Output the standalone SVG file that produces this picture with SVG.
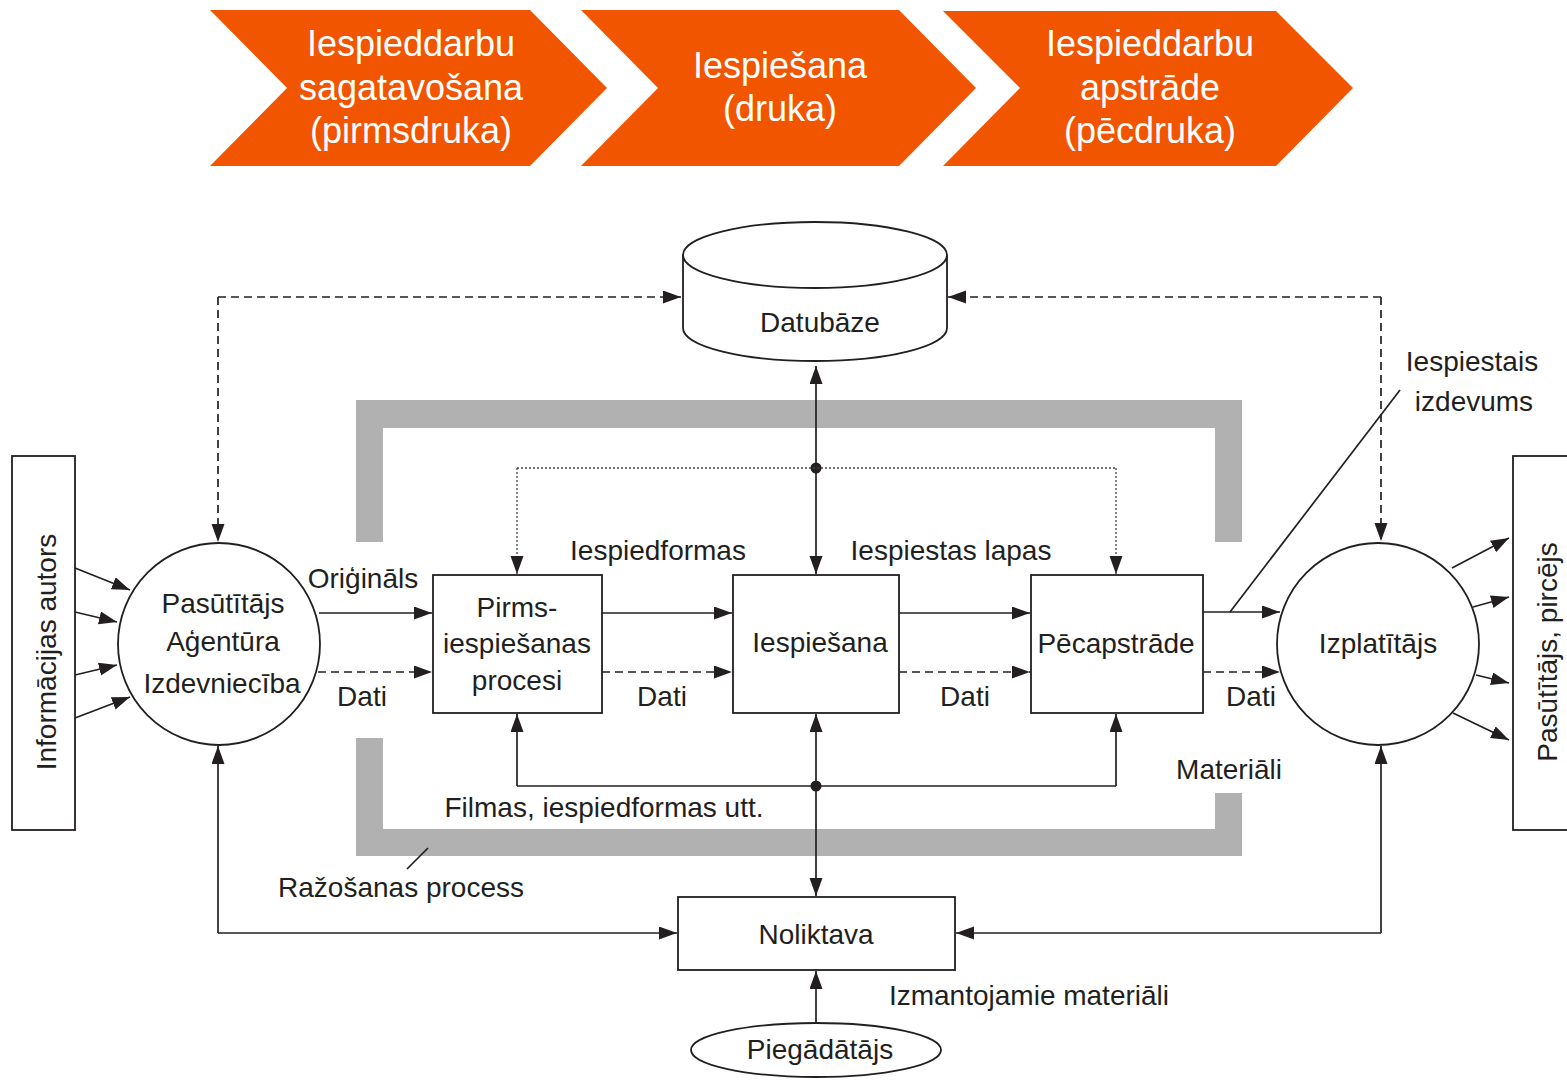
<svg xmlns="http://www.w3.org/2000/svg" width="1567" height="1081" viewBox="0 0 1567 1081">
<style>
.t{font-family:"Liberation Sans",Arial,sans-serif;font-size:28px;fill:#231f20;text-anchor:middle}
.ch{font-family:"Liberation Sans",Arial,sans-serif;font-size:36px;fill:#ffffff;text-anchor:middle}
.ln{stroke:#231f20;stroke-width:1.7;fill:none}
.da{stroke:#231f20;stroke-width:1.7;fill:none;stroke-dasharray:8 5}
.dt{stroke:#444;stroke-width:1.3;fill:none;stroke-dasharray:2 2}
.box{fill:#fff;stroke:#231f20;stroke-width:1.8}
.gray{fill:#b1b1b1}
.arr{fill:#f15500}
</style>
<defs>
<marker id="ah" markerUnits="userSpaceOnUse" markerWidth="20" markerHeight="14" refX="18" refY="6.5" orient="auto">
<path d="M0,0 L18,6.5 L0,13 Z" fill="#231f20"/>
</marker>
</defs>
<rect width="1567" height="1081" fill="#fff"/>

<g id="phase1">
<path class="arr" d="M210,10 L530,10 L607,88 L530,166 L210,166 L287,88 Z"/>
<text class="ch" x="411" y="56">Iespieddarbu</text>
<text class="ch" x="411" y="100">sagatavošana</text>
<text class="ch" x="411" y="143">(pirmsdruka)</text>
</g>
<g id="phase2">
<path class="arr" d="M581,10 L899,10 L976,88 L899,166 L581,166 L658,88 Z"/>
<text class="ch" x="780" y="78">Iespiešana</text>
<text class="ch" x="780" y="121">(druka)</text>
</g>
<g id="phase3">
<path class="arr" d="M943,11 L1276,11 L1353,88 L1276,166 L943,166 L1020,88 Z"/>
<text class="ch" x="1150" y="56">Iespieddarbu</text>
<text class="ch" x="1150" y="100">apstrāde</text>
<text class="ch" x="1150" y="143">(pēcdruka)</text>
</g>

<g id="production-process">
<path class="gray" d="M356,400 H1242 V542 H1215 V428 H383 V542 H356 Z"/>
<path class="gray" d="M356,738 H383 V829 H1215 V793 H1242 V856 H356 Z"/>
<line class="ln" x1="407" y1="869" x2="428" y2="848" stroke-width="3"/>
<text class="t" x="401" y="897">Ražošanas process</text>
</g>

<g id="connectors">
<line class="ln" x1="75" y1="568" x2="130" y2="590" marker-end="url(#ah)"/>
<line class="ln" x1="75" y1="612" x2="117" y2="622" marker-end="url(#ah)"/>
<line class="ln" x1="75" y1="675" x2="117" y2="665" marker-end="url(#ah)"/>
<line class="ln" x1="75" y1="718" x2="130" y2="697" marker-end="url(#ah)"/>
<path class="da" d="M218,297 H681" marker-end="url(#ah)"/>
<path class="da" d="M218,297 V542" marker-end="url(#ah)"/>
<path class="da" d="M1381,297 H948" marker-end="url(#ah)"/>
<path class="da" d="M1381,297 V541" marker-end="url(#ah)"/>
<line class="ln" x1="816" y1="468" x2="816" y2="366" marker-end="url(#ah)"/>
<line class="ln" x1="816" y1="468" x2="816" y2="574" marker-end="url(#ah)"/>
<circle cx="816" cy="468" r="5.5" fill="#231f20"/>
<path class="dt" d="M517,468 H1116"/>
<path class="dt" d="M517,468 V574" marker-end="url(#ah)"/>
<path class="dt" d="M1116,468 V574" marker-end="url(#ah)"/>
<line class="ln" x1="319" y1="613" x2="432" y2="613" marker-end="url(#ah)"/>
<line class="da" x1="318" y1="672" x2="432" y2="672" marker-end="url(#ah)"/>
<line class="ln" x1="602" y1="613" x2="732" y2="613" marker-end="url(#ah)"/>
<line class="da" x1="602" y1="672" x2="732" y2="672" marker-end="url(#ah)"/>
<line class="ln" x1="899" y1="613" x2="1030" y2="613" marker-end="url(#ah)"/>
<line class="da" x1="899" y1="672" x2="1030" y2="672" marker-end="url(#ah)"/>
<line class="ln" x1="1203" y1="612" x2="1280" y2="612" marker-end="url(#ah)"/>
<line class="da" x1="1203" y1="672" x2="1280" y2="672" marker-end="url(#ah)"/>
<line class="ln" x1="1230" y1="612" x2="1400" y2="390"/>
<line class="ln" x1="1452" y1="568" x2="1509" y2="538" marker-end="url(#ah)"/>
<line class="ln" x1="1473" y1="607" x2="1509" y2="597" marker-end="url(#ah)"/>
<line class="ln" x1="1476" y1="675" x2="1509" y2="683" marker-end="url(#ah)"/>
<line class="ln" x1="1453" y1="713" x2="1509" y2="740" marker-end="url(#ah)"/>
<line class="ln" x1="816" y1="786" x2="816" y2="714" marker-end="url(#ah)"/>
<line class="ln" x1="816" y1="786" x2="816" y2="896" marker-end="url(#ah)"/>
<circle cx="816" cy="786" r="5.5" fill="#231f20"/>
<path class="ln" d="M517,786 H1116"/>
<path class="ln" d="M517,786 V714" marker-end="url(#ah)"/>
<path class="ln" d="M1116,786 V714" marker-end="url(#ah)"/>
<path class="ln" d="M218,933 V746" marker-end="url(#ah)"/>
<path class="ln" d="M218,933 H677" marker-end="url(#ah)"/>
<path class="ln" d="M1381,933 V746" marker-end="url(#ah)"/>
<path class="ln" d="M1381,933 H956" marker-end="url(#ah)"/>
<line class="ln" x1="816" y1="1023" x2="816" y2="971" marker-end="url(#ah)"/>
</g>

<g id="author">
<rect class="box" x="12" y="456" width="63" height="374"/>
<text class="t" transform="translate(56,652) rotate(-90)">Informācijas autors</text>
</g>
<g id="publisher">
<circle class="box" cx="219" cy="644" r="101"/>
<text class="t" x="223" y="613">Pasūtītājs</text>
<text class="t" x="223" y="651">Aģentūra</text>
<text class="t" x="222" y="693">Izdevniecība</text>
</g>
<g id="database">
<path class="box" d="M683,255 V328 A132,33 0 0 0 947,328 V255"/>
<ellipse class="box" cx="815" cy="255" rx="132" ry="33"/>
<text class="t" x="820" y="332">Datubāze</text>
</g>
<g id="prepress">
<rect class="box" x="433" y="575" width="169" height="138"/>
<text class="t" x="517" y="617">Pirms-</text>
<text class="t" x="517" y="653">iespiešanas</text>
<text class="t" x="517" y="690">procesi</text>
</g>
<g id="printing">
<rect class="box" x="733" y="575" width="166" height="138"/>
<text class="t" x="820" y="652">Iespiešana</text>
</g>
<g id="postpress">
<rect class="box" x="1031" y="575" width="172" height="138"/>
<text class="t" x="1116" y="653">Pēcapstrāde</text>
</g>
<g id="distributor">
<circle class="box" cx="1378" cy="644" r="101"/>
<text class="t" x="1378" y="653">Izplatītājs</text>
</g>
<g id="customer">
<rect class="box" x="1513" y="456" width="70" height="374"/>
<text class="t" transform="translate(1557,652) rotate(-90)">Pasūtītājs, pircējs</text>
</g>
<g id="warehouse">
<rect class="box" x="678" y="897" width="277" height="73"/>
<text class="t" x="816" y="944">Noliktava</text>
</g>
<g id="supplier">
<ellipse class="box" cx="816" cy="1050" rx="125" ry="27"/>
<text class="t" x="820" y="1059">Piegādātājs</text>
</g>

<g id="labels">
<text class="t" x="363" y="588">Oriģināls</text>
<text class="t" x="362" y="706">Dati</text>
<text class="t" x="658" y="560">Iespiedformas</text>
<text class="t" x="662" y="706">Dati</text>
<text class="t" x="951" y="560">Iespiestas lapas</text>
<text class="t" x="965" y="706">Dati</text>
<text class="t" x="1251" y="706">Dati</text>
<text class="t" x="1229" y="779">Materiāli</text>
<text class="t" x="604" y="817">Filmas, iespiedformas utt.</text>
<text class="t" x="1472" y="371">Iespiestais</text>
<text class="t" x="1474" y="411">izdevums</text>
<text class="t" x="1029" y="1005">Izmantojamie materiāli</text>
</g>
</svg>
